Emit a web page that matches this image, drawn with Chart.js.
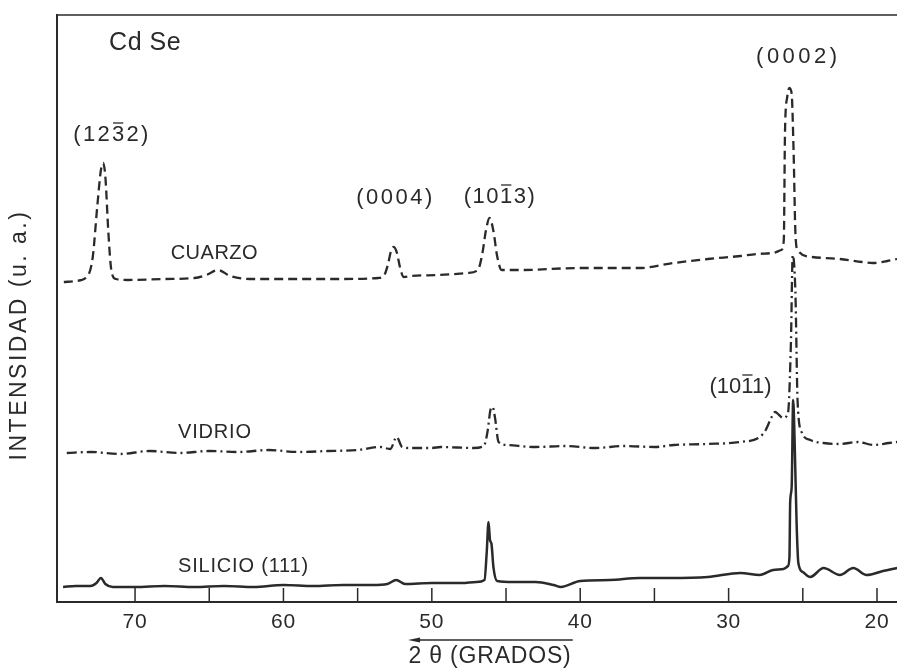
<!DOCTYPE html>
<html>
<head>
<meta charset="utf-8">
<style>
  html, body { margin: 0; background: #fff; overflow: hidden; }
</style>
</head>
<body>
<!-- the plot runs past the right edge of the window, as in the scanned figure -->
<canvas id="c" width="923" height="671"></canvas>
<script src="https://cdn.jsdelivr.net/npm/chart.js@4/dist/chart.umd.min.js"></script>
<script>
// 2 theta (degrees) and intensity (arbitrary units, traces stacked by offset)
const cuarzoTheta = [74.8, 74.0, 73.2, 72.85, 72.55, 72.3, 72.15, 72.0, 71.8, 71.6,
  71.3, 70.5, 68.0, 66.0, 65.2, 64.4, 63.6, 62.0, 59.0, 56.0,
  53.6, 53.2, 52.95, 52.75, 52.57, 52.35, 52.15, 51.9, 51.4, 49.5,
  47.6, 46.9, 46.6, 46.35, 46.11, 45.85, 45.6, 45.3, 44.0, 40.0,
  36.0, 33.7, 31.4, 29.2, 28.1, 27.0, 26.45, 26.28, 26.2, 26.05,
  25.9, 25.75, 25.62, 25.5, 25.35, 24.4, 22.5, 21.0, 20.3, 19.3, 18.65];
const cuarzoInt = [320, 321, 326, 345, 395, 432, 439, 425, 370, 332,
  323, 322, 323, 324, 327, 332, 326, 323, 323, 323,
  324, 327, 338, 351, 355, 349, 335, 325, 326, 327,
  329, 332, 348, 372, 384, 371, 346, 332, 332, 334,
  334, 339, 343, 346, 348, 349, 352, 362, 470, 505,
  514, 508, 450, 370, 352, 345, 343, 340, 339, 341, 343];

const vidrioTheta = [74.6, 73.0, 71.0, 69.0, 67.0, 65.0, 63.0, 61.0, 59.0, 57.0,
  55.0, 53.5, 52.8, 52.37, 52.0, 51.5, 50.0, 49.4, 47.2, 46.5,
  46.25, 46.05, 45.9, 45.75, 45.5, 44.9, 43.0, 41.0, 39.0, 37.0,
  35.0, 33.7, 31.5, 29.2, 27.9, 27.5, 27.1, 26.86, 26.6, 26.33,
  26.0, 25.8, 25.68, 25.5, 25.35, 25.05, 24.5, 23.6, 22.5, 21.3,
  20.2, 19.2, 18.65];
const vidrioInt = [149, 150, 148, 151, 149, 151, 150, 152, 150, 151,
  152, 155, 153, 165, 155, 154, 154, 155, 154, 156,
  170, 192, 195, 185, 160, 157, 155, 156, 154, 156,
  155, 157, 158, 160, 165, 172, 185, 190, 187, 184,
  189, 260, 347, 310, 200, 169, 162, 159, 158, 160,
  157, 159, 160];

const silicioTheta = [74.85, 74.0, 73.0, 72.6, 72.3, 72.0, 71.5, 70.0, 68.0, 66.0,
  64.0, 62.0, 60.0, 58.0, 56.0, 54.0, 53.0, 52.4, 51.8, 50.0,
  48.0, 47.0, 46.45, 46.3, 46.18, 46.08, 45.98, 45.85, 45.6, 44.5,
  43.0, 41.8, 41.3, 40.0, 38.0, 36.0, 34.0, 31.4, 29.2, 27.9,
  27.0, 26.3, 26.0, 25.9, 25.85, 25.75, 25.65, 25.55, 25.42, 25.3,
  25.0, 24.5, 23.6, 22.5, 21.6, 20.7, 19.6, 18.65];
const silicioInt = [15, 16, 16, 19, 24, 18, 15, 15, 16, 15,
  16, 15, 17, 16, 17, 17, 18, 22, 18, 19,
  19, 20, 22, 50, 80, 62, 58, 35, 21, 20,
  20, 17, 15, 21, 22, 24, 24, 25, 29, 27,
  32, 33, 36, 45, 100, 115, 202, 160, 80, 39,
  30, 25, 34, 27, 34, 27, 31, 34];

const tickLabels = [70, 60, 50, 40, 30, 20];

const ink = '#2a2a2a';
const fontFam = '"Liberation Sans", Arial, sans-serif';

function pts(xs, ys) {
  return xs.map((x, i) => ({ x: x, y: ys[i] }));
}

// text labels inside the plot, placed in data coordinates
const notes = [
  { text: 'Cd Se', x: 71.75, y: 559, align: 'left', size: 25, sp: 0.5 },
  { text: '(1232)', x: 71.55, y: 467, align: 'center', size: 22, sp: 2.3, bar: 3 },
  { text: 'CUARZO', x: 67.6, y: 349, align: 'left', size: 20, sp: 0.5 },
  { text: '(0004)', x: 52.45, y: 404, align: 'center', size: 22, sp: 2.5 },
  { text: '(1013)', x: 45.4, y: 405, align: 'center', size: 22, sp: 1.5, bar: 3 },
  { text: '(0002)', x: 25.3, y: 545, align: 'center', size: 22, sp: 3.5 },
  { text: 'VIDRIO', x: 67.1, y: 170, align: 'left', size: 20, sp: 0.8 },
  { text: '(1011)', x: 29.2, y: 215, align: 'center', size: 22, sp: 0, bar: 3 },
  { text: 'SILICIO (111)', x: 67.1, y: 36, align: 'left', size: 20, sp: 0.8 }
];

const decor = {
  id: 'decor',
  beforeDraw(chart) {
    chart.ctx.letterSpacing = '0.8px';
  },
  afterDraw(chart) {
    const ctx = chart.ctx;
    const xs = chart.scales.x, ys = chart.scales.y;
    const area = chart.chartArea;
    ctx.save();
    ctx.strokeStyle = ink;
    ctx.fillStyle = ink;

    // top frame line
    ctx.lineWidth = 1.5;
    ctx.beginPath();
    ctx.moveTo(area.left, area.top);
    ctx.lineTo(area.right, area.top);
    ctx.stroke();

    // inward tick marks every 5 degrees
    ctx.lineWidth = 1.5;
    xs.ticks.forEach(t => {
      if (t.value < 19 || t.value > 74) return;
      const px = xs.getPixelForValue(t.value);
      ctx.beginPath();
      ctx.moveTo(px, area.bottom);
      ctx.lineTo(px, area.bottom - 14);
      ctx.stroke();
    });

    // arrow above the x title
    const ay = area.bottom + 38;
    const a1 = xs.getPixelForValue(51.6), a2 = xs.getPixelForValue(40.5);
    ctx.lineWidth = 1.5;
    ctx.beginPath();
    ctx.moveTo(a1 + 6, ay);
    ctx.lineTo(a2, ay);
    ctx.stroke();
    ctx.beginPath();
    ctx.moveTo(a1, ay);
    ctx.lineTo(a1 + 12, ay - 2.5);
    ctx.lineTo(a1 + 12, ay + 2.5);
    ctx.closePath();
    ctx.fill();

    // y title, rotated
    ctx.save();
    ctx.translate(20, ys.getPixelForValue(267));
    ctx.rotate(-Math.PI / 2);
    ctx.font = '23px ' + fontFam;
    ctx.letterSpacing = '2.5px';
    ctx.textAlign = 'center';
    ctx.textBaseline = 'middle';
    ctx.fillText('INTENSIDAD (u. a.)', 0, 0);
    ctx.restore();

    // labels
    ctx.textBaseline = 'middle';
    notes.forEach(n => {
      ctx.font = n.size + 'px ' + fontFam;
      ctx.letterSpacing = n.sp + 'px';
      ctx.textAlign = n.align;
      const px = xs.getPixelForValue(n.x), py = ys.getPixelForValue(n.y);
      ctx.fillText(n.text, px, py);
      if (n.bar !== undefined) {
        const w = ctx.measureText(n.text).width;
        const left = n.align === 'center' ? px - w / 2 : px;
        const off = ctx.measureText(n.text.slice(0, n.bar)).width;
        const cw = ctx.measureText(n.text[n.bar]).width - n.sp;
        ctx.lineWidth = 1.3;
        ctx.beginPath();
        ctx.moveTo(left + off + 1, py - n.size * 0.5 - 1);
        ctx.lineTo(left + off + cw - 1, py - n.size * 0.5 - 1);
        ctx.stroke();
      }
    });
    ctx.restore();
  }
};

new Chart(document.getElementById('c'), {
  type: 'line',
  data: {
    datasets: [
      {
        label: 'CUARZO',
        data: pts(cuarzoTheta, cuarzoInt),
        borderColor: ink,
        borderWidth: 2.3,
        borderDash: [9, 5],
        pointRadius: 0,
        cubicInterpolationMode: 'monotone'
      },
      {
        label: 'VIDRIO',
        data: pts(vidrioTheta, vidrioInt),
        borderColor: ink,
        borderWidth: 2.3,
        borderDash: [10, 4, 2, 4],
        pointRadius: 0,
        cubicInterpolationMode: 'monotone'
      },
      {
        label: 'SILICIO (111)',
        data: pts(silicioTheta, silicioInt),
        borderColor: ink,
        borderWidth: 2.5,
        pointRadius: 0,
        cubicInterpolationMode: 'monotone'
      }
    ]
  },
  options: {
    responsive: false,
    animation: false,
    layout: { padding: { top: 15, right: 0, bottom: 0, left: 0 } },
    plugins: { legend: { display: false }, tooltip: { enabled: false } },
    scales: {
      x: {
        type: 'linear',
        reverse: true,
        min: 16.9,
        max: 75.26,
        afterFit: s => { s.height = 69; },
        grid: { display: false, drawTicks: false },
        border: { display: true, color: ink, width: 2 },
        ticks: {
          stepSize: 5,
          includeBounds: false,
          padding: 10,
          color: ink,
          font: { family: fontFam, size: 21, lineHeight: 1 },
          maxRotation: 0,
          autoSkip: false,
          callback: v => tickLabels.includes(v) ? String(v) : ''
        },
        title: {
          display: true,
          text: '2 θ (GRADOS)',
          color: ink,
          font: { family: fontFam, size: 23, lineHeight: 1 },
          padding: { top: 0, bottom: 3 }
        }
      },
      y: {
        min: 0,
        max: 587,
        afterFit: s => { s.width = 57; },
        grid: { display: false, drawTicks: false },
        border: { display: true, color: ink, width: 2 },
        ticks: { display: false },
        title: { display: false }
      }
    }
  },
  plugins: [decor]
});
</script>
</body>
</html>
